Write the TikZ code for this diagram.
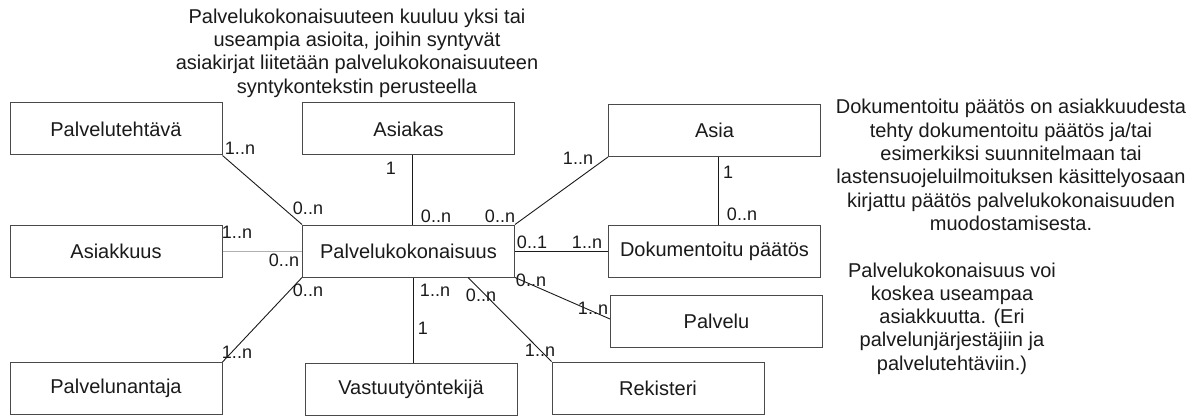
\documentclass[tikz,border=0pt]{standalone}
\usepackage{fontspec}
\setmainfont{Liberation Sans}
\usetikzlibrary{positioning}
\definecolor{ink}{HTML}{1A1A1A}
\definecolor{frame}{HTML}{4A4A4A}
\definecolor{faint}{HTML}{B0B0B0}
\begin{document}
\begin{tikzpicture}[x=1pt,y=-1pt,
  entity/.style={draw=frame,line width=1pt,minimum width=212pt,minimum height=52pt,
    inner sep=0pt,text=ink,font=\fontsize{20}{24}\selectfont},
  link/.style={draw=ink,line width=0.9pt},
  mult/.style={inner sep=0pt,text=ink,font=\fontsize{18}{20}\selectfont},
  note/.style={inner sep=0pt,text=ink,align=center,font=\fontsize{20}{23.3}\selectfont}]
\useasboundingbox (0,0) rectangle (1194,417);

% entities
\node[entity] (pt)  at (116,129)   {Palvelutehtävä};
\node[entity] (ak)  at (408.5,129) {Asiakas};
\node[entity] (as)  at (714.5,130.5) {Asia};
\node[entity] (pk)  at (408.5,251) {Palvelukokonaisuus};
\node[entity] (dp)  at (714.5,251) {Dokumentoitu päätös};
\node[entity] (akk) at (116,251.5) {Asiakkuus};
\node[entity] (pa)  at (116,388.5) {Palvelunantaja};
\node[entity] (vt)  at (411,389.5) {Vastuutyöntekijä};
\node[entity] (rk)  at (658,388)   {Rekisteri};
\node[entity] (pv)  at (716.5,321.5) {Palvelu};

% relations
\draw[link] (pt.south east) -- (pk.north west);
\draw[draw=faint,line width=0.9pt] (akk.east) -- (akk.east -| pk.west);
\draw[link] (pa.north east) -- (pk.south west);
\draw[link] ([xshift=3.5pt]ak.south) -- ([xshift=3.5pt]pk.north);
\draw[link] (as.south west) -- (pk.north east);
\draw[link] (pk.east) -- (dp.west);
\draw[link] ([xshift=3.5pt]as.south) -- ([xshift=3.5pt]dp.north);
\draw[link] (pk.south east) -- ([yshift=2.5pt]pv.west);
\draw[link] ([xshift=59.5pt]pk.south) -- (rk.north west);
\draw[link] ([xshift=2pt]vt.north) -- ([xshift=2pt]vt.north |- pk.south);

% multiplicities
\node[mult] (m1)  at (240,148) {1..n};
\node[mult] (m2)  at (308,208) {0..n};
\node[mult] (m3)  at (391,168) {1};
\node[mult] (m4)  at (436,216) {0..n};
\node[mult] (m5)  at (500,216) {0..n};
\node[mult] (m6)  at (578,158) {1..n};
\node[mult] (m7)  at (532,242) {0..1};
\node[mult] (m8)  at (587,242) {1..n};
\node[mult] (m9)  at (728,172) {1};
\node[mult] (m10) at (742,214) {0..n};
\node[mult] (m11) at (237,232) {1..n};
\node[mult] (m12) at (284,260) {0..n};
\node[mult] (m13) at (308,290) {0..n};
\node[mult] (m14) at (237,352) {1..n};
\node[mult] (m15) at (435,290) {1..n};
\node[mult] (m16) at (423,328) {1};
\node[mult] (m17) at (481,295) {0..n};
\node[mult] (m18) at (531,280) {0..n};
\node[mult] (m19) at (593,308) {1..n};
\node[mult] (m20) at (540,350) {1..n};

% notes
\node[note] (n1) at (357,53) {Palvelukokonaisuuteen kuuluu yksi tai\\useampia asioita, joihin syntyvät\\asiakirjat liitetään palvelukokonaisuuteen\\syntykontekstin perusteella};
\node[note] (n2) at (1011,165) {Dokumentoitu päätös on asiakkuudesta\\tehty dokumentoitu päätös ja/tai\\esimerkiksi suunnitelmaan tai\\lastensuojeluilmoituksen käsittelyosaan\\kirjattu päätös palvelukokonaisuuden\\muodostamisesta.};
\node[note] (n3) at (952,318.5) {Palvelukokonaisuus voi\\koskea useampaa\\asiakkuutta. (Eri\\palvelunjärjestäjiin ja\\palvelutehtäviin.)};
\end{tikzpicture}
\end{document}
